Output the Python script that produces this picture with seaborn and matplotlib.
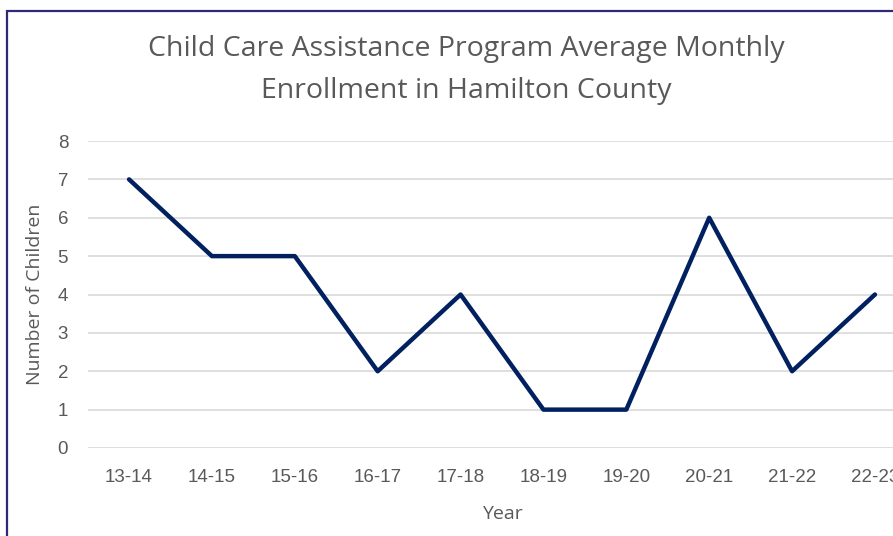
import matplotlib
matplotlib.use("Agg")
import matplotlib.pyplot as plt
import seaborn as sns
import pandas as pd
from matplotlib.patches import Rectangle

# ── Data ──────────────────────────────────────────────────────────────────────
YEARS = ["13-14", "14-15", "15-16", "16-17", "17-18",
         "18-19", "19-20", "20-21", "21-22", "22-23"]
CHILDREN = [7, 5, 5, 2, 4, 1, 1, 6, 2, 4]
Y_TICKS = [0, 1, 2, 3, 4, 5, 6, 7, 8]

TITLE = "Child Care Assistance Program Average Monthly\nEnrollment in Hamilton County"
TEXT_GRAY = "#595959"
LINE_BLUE = "#002060"


def main():
    sns.set_theme(style="white")
    plt.rcParams["font.family"] = ["Liberation Sans", "DejaVu Sans"]

    df = pd.DataFrame({"Year": YEARS, "Children": CHILDREN})

    fig = plt.figure(figsize=(8.93, 5.36), dpi=100)
    # axes runs off the right edge, like the cropped source picture
    ax = fig.add_axes([87.6 / 893, 88 / 536, 828.8 / 893, 307 / 536])

    sns.lineplot(data=df, x="Year", y="Children", sort=False,
                 color=LINE_BLUE, linewidth=3.2, ax=ax)

    ax.set_xlim(-0.5, len(YEARS) - 0.5)
    ax.set_ylim(0, 8)
    ax.set_yticks(Y_TICKS)
    ax.yaxis.grid(True, color="#d9d9d9", linewidth=1.2)
    ax.xaxis.grid(False)
    ax.set_axisbelow(True)
    for side in ax.spines.values():
        side.set_visible(False)
    ax.tick_params(axis="y", length=0, pad=14, labelsize=13.5, labelcolor=TEXT_GRAY)
    ax.tick_params(axis="x", length=0, pad=15, labelsize=13.5, labelcolor=TEXT_GRAY)

    ax.set_xlabel("Year", fontsize=14, color=TEXT_GRAY, labelpad=14,
                  family=["Open Sans", "DejaVu Sans"])
    ax.set_ylabel("Number of Children", fontsize=14, color=TEXT_GRAY, labelpad=10,
                  family=["Open Sans", "DejaVu Sans"])

    fig.text(466 / 893, 1 - 70 / 536, TITLE, ha="center", va="center",
             fontsize=20.5, color=TEXT_GRAY, linespacing=1.62,
             family=["Open Sans", "DejaVu Sans"])

    # chart frame (only top and left edges fall inside the crop)
    fig.patches.append(Rectangle((7 / 893, -0.1), 1.2, 1 - 11 / 536 + 0.1,
                                 transform=fig.transFigure, fill=False,
                                 edgecolor="#2e2a78", linewidth=1.6))

    fig.savefig("out.png", dpi=100)
    plt.close(fig)


if __name__ == "__main__":
    main()
